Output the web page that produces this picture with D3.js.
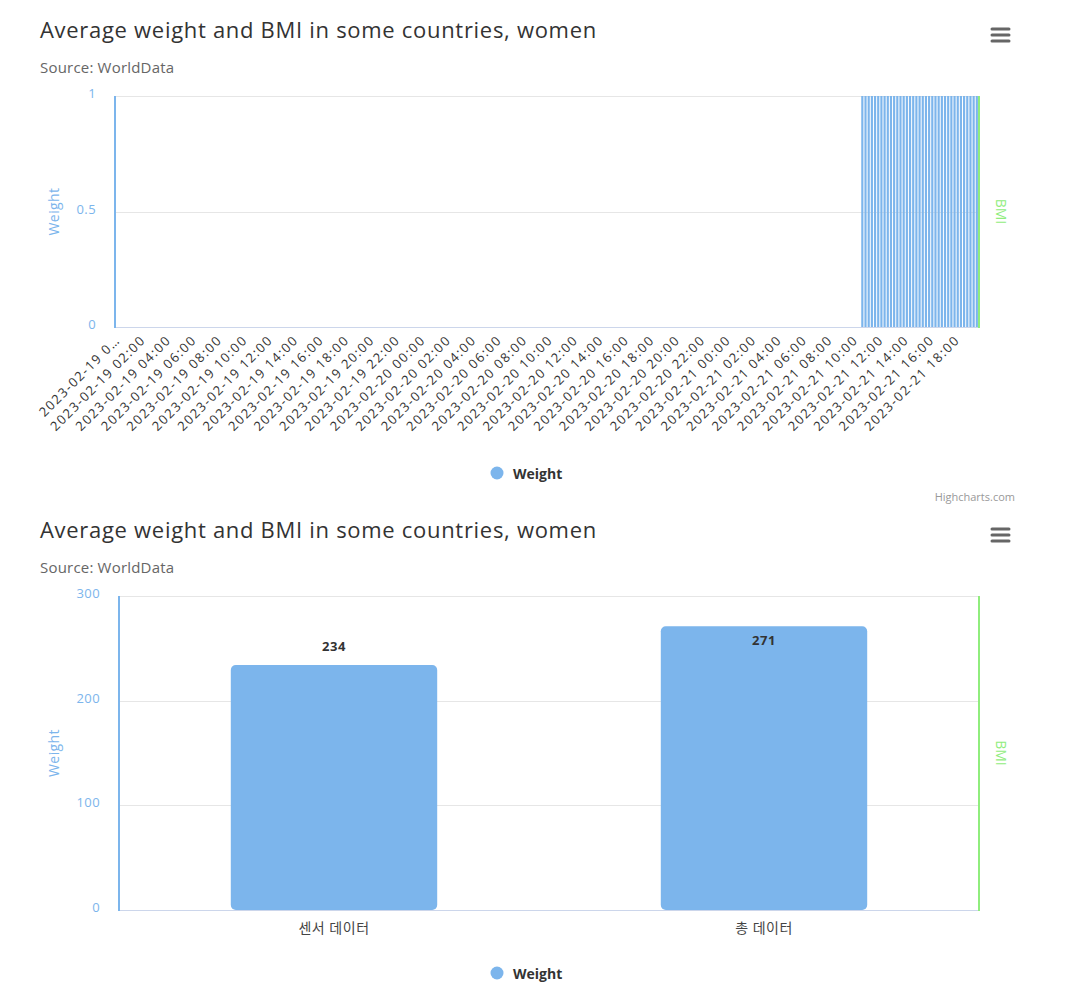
<!DOCTYPE html>
<html>
<head>
<meta charset="utf-8">
<script src="https://cdn.jsdelivr.net/npm/d3@7"></script>
<style>
  body { margin: 0; background: #fff; }
  svg { font-family: "Open Sans", "Noto Sans", "Noto Sans CJK KR", sans-serif; }
</style>
</head>
<body>
<div id="chart"></div>
<script>
// chart texts
var titleText = "Average weight and BMI in some countries, women";
var subtitleText = "Source: WorldData";
var seriesName = "Weight";
var rightAxisName = "BMI";

// top chart: tick labels every 2 hours, bars only at the end
var timeTicks = [
  "2023-02-19 00:00", "2023-02-19 02:00", "2023-02-19 04:00", "2023-02-19 06:00",
  "2023-02-19 08:00", "2023-02-19 10:00", "2023-02-19 12:00", "2023-02-19 14:00",
  "2023-02-19 16:00", "2023-02-19 18:00", "2023-02-19 20:00", "2023-02-19 22:00",
  "2023-02-20 00:00", "2023-02-20 02:00", "2023-02-20 04:00", "2023-02-20 06:00",
  "2023-02-20 08:00", "2023-02-20 10:00", "2023-02-20 12:00", "2023-02-20 14:00",
  "2023-02-20 16:00", "2023-02-20 18:00", "2023-02-20 20:00", "2023-02-20 22:00",
  "2023-02-21 00:00", "2023-02-21 02:00", "2023-02-21 04:00", "2023-02-21 06:00",
  "2023-02-21 08:00", "2023-02-21 10:00", "2023-02-21 12:00", "2023-02-21 14:00",
  "2023-02-21 16:00", "2023-02-21 18:00"
];
var timeDomain = ["2023-02-19 00:00", "2023-02-21 20:00"];
var barTimes = [
  "2023-02-21 10:45", "2023-02-21 11:00", "2023-02-21 11:15", "2023-02-21 11:30",
  "2023-02-21 11:45", "2023-02-21 12:00", "2023-02-21 12:15", "2023-02-21 12:30",
  "2023-02-21 12:45", "2023-02-21 13:00", "2023-02-21 13:15", "2023-02-21 13:30",
  "2023-02-21 13:45", "2023-02-21 14:00", "2023-02-21 14:15", "2023-02-21 14:30",
  "2023-02-21 14:45", "2023-02-21 15:00", "2023-02-21 15:15", "2023-02-21 15:30",
  "2023-02-21 15:45", "2023-02-21 16:00", "2023-02-21 16:15", "2023-02-21 16:30",
  "2023-02-21 16:45", "2023-02-21 17:00", "2023-02-21 17:15", "2023-02-21 17:30",
  "2023-02-21 17:45", "2023-02-21 18:00", "2023-02-21 18:15", "2023-02-21 18:30",
  "2023-02-21 18:45", "2023-02-21 19:00", "2023-02-21 19:15", "2023-02-21 19:30",
  "2023-02-21 19:45"
];
var barValues = [
  1, 1, 1, 1, 1, 1, 1, 1, 1, 1, 1, 1, 1, 1, 1, 1, 1, 1, 1,
  1, 1, 1, 1, 1, 1, 1, 1, 1, 1, 1, 1, 1, 1, 1, 1, 1, 1
];
var topYTicks = [0, 0.5, 1];

// bottom chart
var categories = ["센서 데이터", "총 데이터"];
var weights = [234, 271];
var bottomYTicks = [0, 100, 200, 300];

var blue = "#7cb5ec", green = "#90ed7d";
var parseTime = d3.timeParse("%Y-%m-%d %H:%M");

var svg = d3.select("#chart").append("svg")
  .attr("width", 1066)
  .attr("height", 989);

function drawHeader(g) {
  g.append("text").attr("x", 40).attr("y", 38)
    .style("font-size", "22px").style("letter-spacing", "0.7px")
    .style("fill", "#333").text(titleText);
  g.append("text").attr("x", 40).attr("y", 73)
    .style("font-size", "15px").style("letter-spacing", "0.2px")
    .style("fill", "#666").text(subtitleText);
  // menu button
  g.selectAll(".menu").data([29, 35, 41]).enter().append("line")
    .attr("x1", 992).attr("x2", 1009)
    .attr("y1", function(d) { return d; }).attr("y2", function(d) { return d; })
    .attr("stroke", "#666").attr("stroke-width", 3).attr("stroke-linecap", "round");
}

function drawLegend(g, y) {
  g.append("circle").attr("cx", 497).attr("cy", y).attr("r", 6.5).attr("fill", blue);
  g.append("text").attr("x", 513).attr("y", y + 6)
    .style("font-size", "14px").style("font-weight", "bold").style("fill", "#333")
    .text(seriesName);
}

function drawYAxis(g, yScale, ticks, left, right, fmt) {
  g.selectAll(".grid").data(ticks).enter().append("line")
    .attr("x1", left).attr("x2", right)
    .attr("y1", function(d) { return Math.round(yScale(d)) + 0.5; })
    .attr("y2", function(d) { return Math.round(yScale(d)) + 0.5; })
    .attr("stroke", "#e6e6e6");
  g.selectAll(".ylab").data(ticks).enter().append("text")
    .attr("x", left - 19).attr("y", function(d) { return yScale(d) + 2; })
    .attr("text-anchor", "end")
    .style("font-size", "13px").style("letter-spacing", "0.4px").style("fill", blue)
    .text(fmt);
  var mid = (yScale.range()[0] + yScale.range()[1]) / 2;
  g.append("text")
    .attr("transform", "translate(59," + mid + ") rotate(-90)")
    .attr("text-anchor", "middle")
    .style("font-size", "14px").style("letter-spacing", "0.4px")
    .style("fill", blue).text(seriesName);
  g.append("text")
    .attr("transform", "translate(996," + mid + ") rotate(90)")
    .attr("text-anchor", "middle")
    .style("font-size", "14px").style("fill", green).text(rightAxisName);
}

function drawFrame(g, yScale, left, right) {
  var y0 = yScale.range()[0], y1 = yScale.range()[1];
  g.append("line").attr("x1", left).attr("x2", right).attr("y1", y0 + 0.5).attr("y2", y0 + 0.5)
    .attr("stroke", "#ccd6eb");
  g.append("line").attr("x1", left).attr("x2", left).attr("y1", y1).attr("y2", y0 + 1)
    .attr("stroke", blue).attr("stroke-width", 2);
  g.append("line").attr("x1", right).attr("x2", right).attr("y1", y1).attr("y2", y0 + 1)
    .attr("stroke", green).attr("stroke-width", 2);
}

// ---------- top chart ----------
var topChart = svg.append("g");
drawHeader(topChart);

var xTime = d3.scaleTime()
  .domain(timeDomain.map(parseTime))
  .range([115, 980]);
var yTop = d3.scaleLinear().domain([0, 1]).range([327, 96]);

drawYAxis(topChart, yTop, topYTicks, 115, 980, function(d) { return d; });

var pitch = xTime(parseTime(barTimes[1])) - xTime(parseTime(barTimes[0]));
topChart.selectAll(".bar").data(barTimes).enter().append("rect")
  .attr("x", function(d) { return xTime(parseTime(d)) - (pitch - 1) / 2; })
  .attr("width", pitch - 1)
  .attr("y", function(d, i) { return yTop(barValues[i]); })
  .attr("height", function(d, i) { return yTop(0) - yTop(barValues[i]); })
  .attr("fill", blue);

drawFrame(topChart, yTop, 115, 979);

topChart.selectAll(".xlab").data(timeTicks).enter().append("text")
  .attr("transform", function(d) {
    return "translate(" + (xTime(parseTime(d)) + 6) + ",341) rotate(-45)";
  })
  .attr("text-anchor", "end")
  .style("font-size", "13px").style("letter-spacing", "1.5px").style("fill", "#333")
  .text(function(d, i) { return i === 0 ? d.slice(0, 12) + "…" : d; });

drawLegend(topChart, 473);

topChart.append("text").attr("x", 1015).attr("y", 501).attr("text-anchor", "end")
  .style("font-size", "11px").style("fill", "#999").text("Highcharts.com");

// ---------- bottom chart ----------
var bottomChart = svg.append("g").attr("transform", "translate(0,500)");
drawHeader(bottomChart);

var xCat = d3.scaleBand().domain(categories).range([119, 979]).padding(0);
var yBot = d3.scaleLinear().domain([0, 300]).range([410, 96]);

drawYAxis(bottomChart, yBot, bottomYTicks, 119, 979, function(d) { return d; });

var bw = xCat.bandwidth() * 0.48;
bottomChart.selectAll(".col").data(categories).enter().append("rect")
  .attr("x", function(d) { return xCat(d) + (xCat.bandwidth() - bw) / 2; })
  .attr("width", bw)
  .attr("y", function(d, i) { return yBot(weights[i]); })
  .attr("height", function(d, i) { return yBot(0) - yBot(weights[i]); })
  .attr("rx", 5)
  .attr("fill", blue);

bottomChart.selectAll(".dlab").data(categories).enter().append("text")
  .attr("x", function(d) { return xCat(d) + xCat.bandwidth() / 2; })
  .attr("y", function(d, i) {
    var y = yBot(weights[i]);
    return (y - 35 < yBot.range()[1]) ? y + 19 : y - 14;
  })
  .attr("text-anchor", "middle")
  .style("font-size", "13px").style("font-weight", "bold").style("letter-spacing", "0.6px")
  .style("fill", "#333")
  .text(function(d, i) { return weights[i]; });

drawFrame(bottomChart, yBot, 119, 979);

bottomChart.selectAll(".xlab").data(categories).enter().append("text")
  .attr("x", function(d) { return xCat(d) + xCat.bandwidth() / 2; })
  .attr("y", 433)
  .attr("text-anchor", "middle")
  .style("font-size", "14px").style("letter-spacing", "0.5px").style("fill", "#444")
  .text(function(d) { return d; });

drawLegend(bottomChart, 473);
</script>
</body>
</html>
